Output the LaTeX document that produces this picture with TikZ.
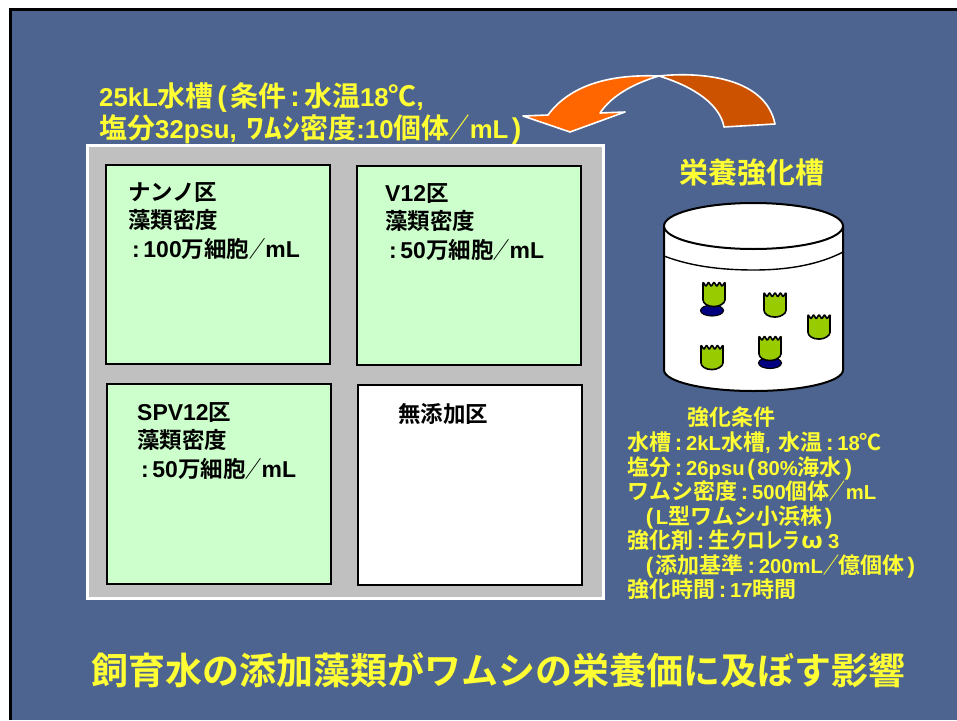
\documentclass[tikz,border=0pt]{standalone}
\usepackage{fontspec}
\setmainfont{Noto Sans CJK JP Bold}
\newfontfamily\latinsmall[Scale=0.92]{Liberation Sans Bold}
\newfontfamily\latinfull[Scale=1.02]{Liberation Sans Bold}
% Latin runs inside the Japanese text
\newcommand{\ltn}[1]{{\latinsmall #1}}
\newcommand{\ltf}[1]{{\latinfull #1}}
% narrow brackets, a spaced colon and a narrowed full-width slash
\newcommand{\lbk}{\hspace*{.12em}\ltf{(}\hspace*{.12em}}
\newcommand{\rbk}{\hspace*{.12em}\ltf{)}\hspace*{.12em}}
\newcommand{\cln}{\hspace*{.17em}\ltf{:}\hspace*{.17em}}
\newcommand{\slh}{\scalebox{.72}[1]{／}}
\definecolor{slideblue}{HTML}{4D6490}
\definecolor{slideyellow}{HTML}{FFFF33}
\definecolor{panelgray}{HTML}{C0C0C0}
\definecolor{mint}{HTML}{CCFFCC}
\definecolor{rotifergreen}{HTML}{99CC00}
\definecolor{eggblue}{HTML}{000080}
\definecolor{swoopbright}{HTML}{FF6600}
\definecolor{swoopdark}{HTML}{CC5200}
\tikzset{
  x=1pt,y=-1pt,
  plot box/.style={draw=black,line width=1.5pt,fill=#1,anchor=north west,inner sep=0pt,outer sep=0pt},
  plot label/.style={anchor=north west,inner sep=0pt,align=left,text=black,font=\fontsize{22.5}{28.5}\selectfont},
  note/.style={anchor=north west,inner sep=0pt,align=left,text=slideyellow},
  swoop/.style={draw=white,line width=1.6pt,line join=round},
  tank/.style={draw=black,line width=2pt},
  rotifer/.style={fill=rotifergreen,draw=black,line width=1.6pt,line join=round,rounded corners=0.8pt},
  egg/.style={fill=eggblue,draw=black,line width=1.1pt},
}
\newcommand{\rotiferat}[2]{%
  \begin{scope}[shift={(#1,#2)}]
    \draw[rotifer] (-11,-12) -- (-8,-7.5) -- (-5.5,-12) -- (-2.8,-7.5) -- (0,-12) -- (2.8,-7.5) -- (5.5,-12) -- (8,-7.5) -- (11,-12)
      -- (11,5) .. controls (11,9.5) and (5,12.5) .. (0,12.5) .. controls (-6,12.5) and (-11,9.5) .. (-11,5) -- cycle;
  \end{scope}}
\begin{document}
\begin{tikzpicture}
\useasboundingbox (0,0) rectangle (957,720);
\fill[white] (0,0) rectangle (957,720);
% slide background with its black top and left rules
\fill[slideblue] (10,9) rectangle (957,720);
\draw[black,line width=2.4pt] (10.5,720) -- (10.5,9.5) -- (957,9.5);

% 25 kL tank and its four plots
\node[draw=white,line width=2.4pt,fill=panelgray,minimum width=516pt,minimum height=453pt,anchor=north west,inner sep=0pt,outer sep=0pt] (panel) at (87.5,145.5) {};
\node[plot box=mint,minimum width=224pt,minimum height=199pt] (nano) at (106,165) {};
\node[plot box=mint,minimum width=224pt,minimum height=199pt] (vtwelve) at (357,166) {};
\node[plot box=mint,minimum width=224pt,minimum height=200pt] (spv) at (107,384) {};
\node[plot box=white,minimum width=224pt,minimum height=200pt] (none) at (358,385) {};
\node[plot label] (nanotext) at (128,182) {ナンノ区\\藻類密度\\\cln\ltf{100}万細胞\slh\ltf{mL}};
\node[plot label] (vtext) at (385,183) {\ltf{V12}区\\藻類密度\\\cln\ltf{50}万細胞\slh\ltf{mL}};
\node[plot label] (spvtext) at (137,402) {\ltf{SPV12}区\\藻類密度\\\cln\ltf{50}万細胞\slh\ltf{mL}};
\node[plot label] (nonetext) at (398,403) {無添加区};

% tank conditions above the panel
\node[note,font=\fontsize{28}{32}\selectfont] (tankcond) at (99,82.5) {\ltn{25kL}水槽\lbk 条件\hspace*{.15em}\ltf{:}\hspace*{.15em}水温\ltn{18}℃\ltn{,}\\塩分\ltn{32psu,}\hspace*{.35em}\scalebox{1.28}[1]{ﾜﾑｼ}密度\ltn{:10}個体\slh\ltn{mL}\rbk};

% transfer arrow between the tanks
\path[swoop,fill=swoopdark] (659,76)
  .. controls (695,72) and (765,75) .. (775,124) -- (724,127)
  .. controls (720,105) and (695,87) .. (659,76) -- cycle;
\path[swoop,fill=swoopbright] (659,76)
  .. controls (610,74) and (570,85) .. (548,115) -- (523,116) -- (570,132) -- (625,112) -- (600,113)
  .. controls (612,95) and (635,83) .. (659,76) -- cycle;

% enrichment tank
\node[font=\fontsize{29}{32}\selectfont,text=slideyellow,inner sep=0pt] (enrichtitle) at (752,172) {栄養強化槽};
\fill[white] (664,226) -- (664,370) .. controls (664,381.6) and (704,391) .. (753.5,391)
  .. controls (803,391) and (843,381.6) .. (843,370) -- (843,226) -- cycle;
\draw[tank] (664,226) -- (664,370) .. controls (664,381.6) and (704,391) .. (753.5,391)
  .. controls (803,391) and (843,381.6) .. (843,370) -- (843,226);
\draw[black,line width=1.4pt] (664,256) .. controls (690,266) and (720,270) .. (754,270)
  .. controls (790,270) and (820,264) .. (843,252);
\draw[tank,fill=white] (753.5,226) ellipse (89.5 and 23);
\draw[egg] (712,310.5) ellipse (11.5 and 5.5);
\draw[egg] (770,363) ellipse (11.5 and 5.5);
\rotiferat{714}{294}
\rotiferat{775}{304.5}
\rotiferat{819}{326.5}
\rotiferat{712}{357}
\rotiferat{770}{348}

% enrichment conditions
\node[note,font=\fontsize{22}{24.5}\selectfont] (condtitle) at (687,407) {強化条件};
\node[note,font=\fontsize{22}{24.5}\selectfont] (condlist) at (627,432) {水槽\cln\ltn{2kL}水槽\ltn{,}\hspace*{.35em}水温\cln\ltn{18}℃\\塩分\cln\ltn{26psu}\lbk\ltn{80\%}海水\rbk\\ワムシ密度\cln\ltn{500}個体\slh\ltn{mL}\\\hspace*{16pt}\lbk\ltn{L}型ワムシ小浜株\rbk\\強化剤\cln 生\scalebox{.8}[1]{クロレラ}\hspace*{.05em}\scalebox{1.2}[1]{ω}\hspace*{.2em}\ltn{3}\\\hspace*{16pt}\lbk 添加基準\cln\ltn{200mL}\slh 億個体\rbk\\強化時間\cln\ltn{17}時間};

% slide title
\node[font=\fontsize{37}{40}\selectfont,text=slideyellow,inner sep=0pt] (slidetitle) at (498.5,670) {飼育水の添加藻類がワムシの栄養価に及ぼす影響};
\end{tikzpicture}
\end{document}
